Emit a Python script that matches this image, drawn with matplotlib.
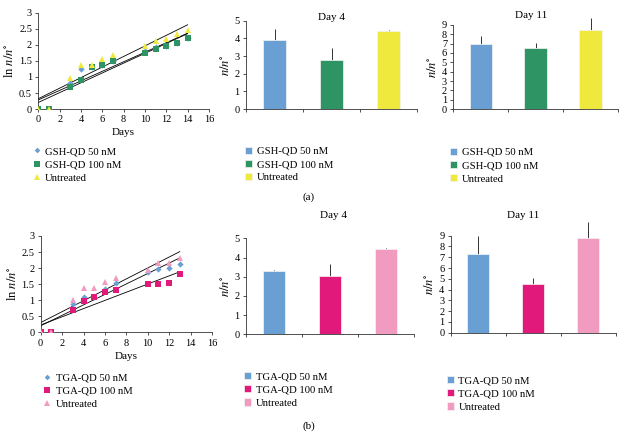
import numpy as np
import matplotlib
matplotlib.use("Agg")
import matplotlib.pyplot as plt
from matplotlib.ticker import FuncFormatter

plt.rcParams['font.family'] = ['Liberation Serif', 'DejaVu Serif']
plt.rcParams['mathtext.fontset'] = 'stix'
plt.rcParams['font.size'] = 7.5

# ---- data ----
days_a = [0, 1, 3, 4, 5, 6, 7, 10, 11, 12, 13, 14]
gsh50 = [0, 0, 0.80, 1.25, 1.30, 1.38, 1.50, 1.80, 1.93, 1.95, 2.07, 2.20]
gsh100 = [0, 0, 0.70, 0.89, 1.32, 1.38, 1.50, 1.75, 1.87, 1.95, 2.07, 2.20]
untr_a = [0, 0, 0.98, 1.37, 1.37, 1.56, 1.69, 1.95, 2.12, 2.17, 2.33, 2.46]

days_b = [0, 1, 3, 4, 5, 6, 7, 10, 11, 12, 13]
tga50 = [0, 0, 0.88, 1.09, 1.10, 1.35, 1.55, 1.89, 1.96, 2.00, 2.14]
tga100 = [0, 0, 0.69, 0.99, 1.09, 1.24, 1.31, 1.50, 1.50, 1.55, 1.82]
untr_b = [0, 0, 1.00, 1.37, 1.37, 1.58, 1.69, 1.94, 2.15, 2.15, 2.33]

labels_a = ["GSH-QD 50 nM", "GSH-QD 100 nM", "Untreated"]
labels_b = ["TGA-QD 50 nM", "TGA-QD 100 nM", "Untreated"]

day4_a = [3.90, 2.77, 4.43]
day4_a_err = [0.63, 0.66, 0.04]
day11_a = [6.96, 6.50, 8.46]
day11_a_err = [0.86, 0.60, 1.33]

day4_b = [3.32, 3.05, 4.44]
day4_b_err = [0.03, 0.61, 0.04]
day11_b = [7.27, 4.49, 8.76]
day11_b_err = [1.73, 0.61, 1.54]

BLUE = "#6a9fd3"
GREEN = "#2f9464"
YELLOW = "#eee93c"
MAGENTA = "#e0197b"
PINK = "#f19bc1"

LEG_FS = 7.7

fig = plt.figure(figsize=(6.25, 4.38), dpi=100)


def style_axes(ax):
    ax.spines['top'].set_visible(False)
    ax.spines['right'].set_visible(False)
    for s in ('left', 'bottom'):
        ax.spines[s].set_linewidth(0.6)
        ax.spines[s].set_color('#333333')
    ax.tick_params(direction='out', length=2.5, width=0.6, pad=2,
                   labelsize=7.5, colors='#333333', labelcolor='black')


def growth(rect, days, series, colors, markers, sizes, labels, leg_anchor):
    ax = fig.add_axes(rect)
    style_axes(ax)
    handles = []
    for y, c, m, s, lab in zip(series, colors, markers, sizes, labels):
        h, = ax.plot(days, y, linestyle='none', marker=m, ms=s, color=c,
                     markeredgewidth=0, label=lab, zorder=3)
        handles.append(h)
    # linear trendlines
    for y in series:
        k, b = np.polyfit(days, y, 1)
        xs = np.array([0, max(days)])
        ax.plot(xs, k * xs + b, color='black', lw=0.6, zorder=2)
    ax.set_xlim(0, 16)
    ax.set_ylim(0, 3)
    ax.set_xticks(range(0, 17, 2))
    ax.set_yticks(np.arange(0, 3.01, 0.5))
    ax.yaxis.set_major_formatter(FuncFormatter(lambda v, p: "%g" % v))
    ax.set_ylabel(r"ln $n/n^{\circ}$", fontsize=9, labelpad=2)
    ax.set_xlabel("Days", fontsize=8, labelpad=3)
    fig.legend(handles=handles, loc='upper left', bbox_to_anchor=leg_anchor,
               frameon=False, fontsize=LEG_FS, handlelength=0.8, handletextpad=0.4,
               labelspacing=0.37, borderpad=0, markerscale=0.9)
    return ax


def bars(rect, vals, errs, colors, labels, ymax, title, title_pos, leg_anchor):
    ax = fig.add_axes(rect)
    style_axes(ax)
    x = np.arange(len(vals)) + 0.5
    cont = ax.bar(x, vals, width=0.41, color=colors, edgecolor='#f4f4f4',
                  linewidth=0.5, zorder=2)
    # upper error bars only, allowed to run past the axis top
    ax.vlines(x, vals, np.array(vals) + np.array(errs), color='#333333',
              lw=0.7, zorder=1, clip_on=False)
    ax.set_xlim(0, 3)
    ax.set_ylim(0, ymax)
    ax.set_xticks([0, 1, 2, 3])
    ax.set_xticklabels([])
    ax.set_yticks(range(0, ymax + 1))
    ax.set_ylabel(r"$n/n^{\circ}$", fontsize=9, labelpad=2)
    fig.text(title_pos[0], title_pos[1], title, ha='center', va='center', fontsize=8)
    fig.legend(handles=list(cont.patches), labels=labels, loc='upper left',
               bbox_to_anchor=leg_anchor, frameon=False, fontsize=LEG_FS,
               handlelength=0.65, handleheight=0.65, handletextpad=0.45,
               labelspacing=0.37, borderpad=0)
    return ax


# ---- panel (a) ----
growth([0.0613, 0.751, 0.273, 0.22], days_a, [gsh50, gsh100, untr_a],
       [BLUE, GREEN, YELLOW], ['D', 's', '^'], [3.2, 4.2, 4.2], labels_a,
       (0.0432, 1 - 141.2 / 438))
bars([0.3936, 0.751, 0.2736, 0.2016], day4_a, day4_a_err, [BLUE, GREEN, YELLOW],
     labels_a, 5, "Day 4", (331 / 625, 1 - 17 / 438), (0.3834, 1 - 141.2 / 438))
bars([0.7253, 0.751, 0.2635, 0.192], day11_a, day11_a_err, [BLUE, GREEN, YELLOW],
     labels_a, 9, "Day 11", (531 / 625, 1 - 15 / 438), (0.7114, 1 - 142.3 / 438))
fig.text(309 / 625, 1 - 197 / 438, "(a)", ha='center', va='center', fontsize=8)

# ---- panel (b) ----
growth([0.0651, 0.2413, 0.274, 0.2199], days_b, [tga50, tga100, untr_b],
       [BLUE, MAGENTA, PINK], ['D', 's', '^'], [3.2, 4.2, 4.2], labels_b,
       (0.0603, 1 - 367.5 / 438))
bars([0.3936, 0.2368, 0.2688, 0.2191], day4_b, day4_b_err, [BLUE, MAGENTA, PINK],
     labels_b, 5, "Day 4", (333 / 625, 1 - 216 / 438), (0.3818, 1 - 366.5 / 438))
bars([0.7211, 0.2404, 0.264, 0.2215], day11_b, day11_b_err, [BLUE, MAGENTA, PINK],
     labels_b, 9, "Day 11", (523 / 625, 1 - 216 / 438), (0.7062, 1 - 370.5 / 438))
fig.text(309 / 625, 1 - 426 / 438, "(b)", ha='center', va='center', fontsize=8)

fig.savefig("out.png", dpi=100)
